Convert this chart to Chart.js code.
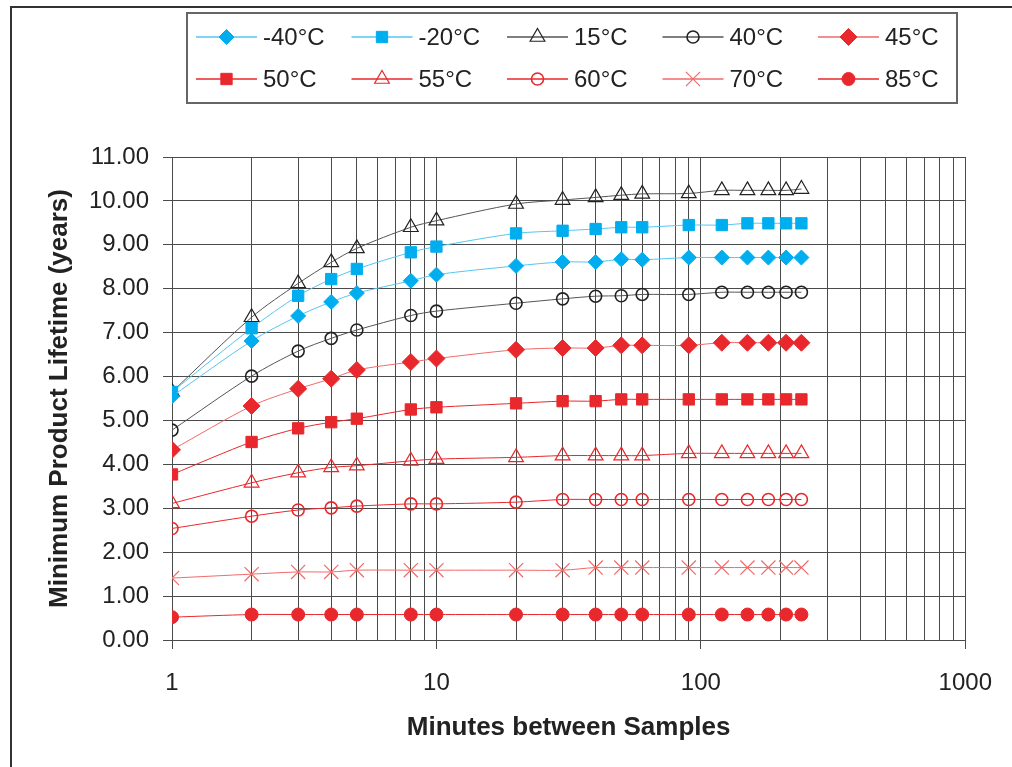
<!DOCTYPE html>
<html>
<head>
<meta charset="utf-8">
<script src="https://cdn.jsdelivr.net/npm/chart.js@4/dist/chart.umd.min.js"></script>
<style>
  html, body { margin: 0; padding: 0; background: #ffffff; }
  #wrap { width: 1012px; height: 767px; position: relative; }
</style>
</head>
<body>
<div id="wrap"><canvas id="c" width="1012" height="767"></canvas></div>
<script>
// ---- data ----
const minutes = [1, 2, 3, 4, 5, 8, 10, 20, 30, 40, 50, 60, 90, 120, 150, 180, 210, 240];
const seriesLabels = ['-40°C', '-20°C', '15°C', '40°C', '45°C', '50°C', '55°C', '60°C', '70°C', '85°C'];
const tM40 = [5.55, 6.81, 7.38, 7.70, 7.90, 8.18, 8.32, 8.52, 8.61, 8.61, 8.67, 8.66, 8.71, 8.71, 8.71, 8.71, 8.71, 8.71];
const tM20 = [5.65, 7.10, 7.84, 8.22, 8.45, 8.83, 8.96, 9.26, 9.32, 9.36, 9.40, 9.40, 9.45, 9.45, 9.49, 9.49, 9.49, 9.49];
const t15  = [5.65, 7.35, 8.12, 8.60, 8.92, 9.40, 9.55, 9.93, 10.02, 10.08, 10.13, 10.16, 10.17, 10.24, 10.24, 10.24, 10.24, 10.27];
const t40  = [4.78, 6.01, 6.58, 6.87, 7.06, 7.39, 7.49, 7.67, 7.77, 7.83, 7.84, 7.87, 7.87, 7.92, 7.92, 7.92, 7.92, 7.92];
const t45  = [4.33, 5.33, 5.72, 5.95, 6.15, 6.33, 6.41, 6.61, 6.65, 6.65, 6.71, 6.71, 6.71, 6.77, 6.77, 6.77, 6.77, 6.77];
const t50  = [3.77, 4.51, 4.82, 4.96, 5.04, 5.25, 5.30, 5.39, 5.44, 5.44, 5.48, 5.48, 5.48, 5.48, 5.48, 5.48, 5.48, 5.48];
const t55  = [3.11, 3.58, 3.81, 3.93, 3.97, 4.08, 4.12, 4.16, 4.20, 4.20, 4.20, 4.20, 4.25, 4.25, 4.25, 4.25, 4.25, 4.25];
const t60  = [2.54, 2.82, 2.96, 3.01, 3.05, 3.10, 3.10, 3.14, 3.20, 3.20, 3.20, 3.20, 3.20, 3.20, 3.20, 3.20, 3.20, 3.20];
const t70  = [1.41, 1.50, 1.55, 1.55, 1.59, 1.59, 1.59, 1.59, 1.59, 1.65, 1.65, 1.65, 1.65, 1.65, 1.65, 1.65, 1.65, 1.65];
const t85  = [0.52, 0.58, 0.58, 0.58, 0.58, 0.58, 0.58, 0.58, 0.58, 0.58, 0.58, 0.58, 0.58, 0.58, 0.58, 0.58, 0.58, 0.58];
const seriesValues = [tM40, tM20, t15, t40, t45, t50, t55, t60, t70, t85];
const xGridValues = [1,2,3,4,5,6,7,8,9,10,20,30,40,50,60,70,80,90,100,200,300,400,500,600,700,800,900,1000];
const yTicks = [0,1,2,3,4,5,6,7,8,9,10,11];

// ---- styles ----
const CYAN = '#00aeef', CYAN_LINE = '#55c6f0';
const RED = '#e8282c', RED_LINE = '#f06a6a';
const BLK = '#222222', GRAY_LINE = '#555555';
const styles = [
  { line: CYAN_LINE, ps: 'rectRot', r: 7.5, fill: CYAN, stroke: CYAN, bw: 1 },
  { line: CYAN_LINE, ps: 'rect',    r: 8,   fill: CYAN, stroke: CYAN, bw: 1 },
  { line: GRAY_LINE, ps: 'triangle', r: 8.5, fill: 'rgba(255,255,255,0)', stroke: BLK, bw: 1.2 },
  { line: GRAY_LINE, ps: 'circle',  r: 6,   fill: 'rgba(255,255,255,0)', stroke: BLK, bw: 1.6 },
  { line: RED_LINE,  ps: 'rectRot', r: 8.5, fill: RED, stroke: RED, bw: 1 },
  { line: RED,       ps: 'rect',    r: 8,   fill: RED, stroke: RED, bw: 1 },
  { line: RED,       ps: 'triangle', r: 8.5, fill: 'rgba(255,255,255,0)', stroke: RED, bw: 1.2 },
  { line: RED,       ps: 'circle',  r: 6,   fill: 'rgba(255,255,255,0)', stroke: RED, bw: 1.6 },
  { line: RED_LINE,  ps: 'crossRot', r: 10, fill: RED, stroke: RED_LINE, bw: 1.2 },
  { line: RED,       ps: 'circle',  r: 6.5, fill: RED, stroke: RED, bw: 1 }
];

const datasets = seriesLabels.map((lab, i) => ({
  label: lab,
  data: minutes.map((m, j) => ({ x: m, y: seriesValues[i][j] })),
  borderColor: styles[i].line,
  borderWidth: 1,
  backgroundColor: styles[i].fill,
  pointStyle: styles[i].ps,
  pointRadius: styles[i].r,
  pointBackgroundColor: styles[i].fill,
  pointBorderColor: styles[i].stroke,
  pointBorderWidth: styles[i].bw,
  pointHoverRadius: styles[i].r,
  tension: 0.3,
  fill: false
}));

const isPow10 = v => Math.abs(Math.log10(v) - Math.round(Math.log10(v))) < 1e-9;
const GRID = '#4a4a4a';
const FONT = "'Liberation Sans', Arial, Helvetica, sans-serif";

function fallbackPoint(ctx, style, x, y, r) {
  ctx.beginPath();
  if (style === 'circle') { ctx.arc(x, y, r, 0, Math.PI * 2); }
  else if (style === 'rect') { const s = r * Math.SQRT1_2; ctx.rect(x - s, y - s, 2 * s, 2 * s); }
  else if (style === 'rectRot') { ctx.moveTo(x, y - r); ctx.lineTo(x + r, y); ctx.lineTo(x, y + r); ctx.lineTo(x - r, y); ctx.closePath(); }
  else if (style === 'triangle') { ctx.moveTo(x, y - r); ctx.lineTo(x + r * 0.866, y + r * 0.5); ctx.lineTo(x - r * 0.866, y + r * 0.5); ctx.closePath(); }
  else if (style === 'crossRot') { const s = r * Math.SQRT1_2; ctx.moveTo(x - s, y - s); ctx.lineTo(x + s, y + s); ctx.moveTo(x + s, y - s); ctx.lineTo(x - s, y + s); }
  if (style !== 'crossRot') ctx.fill();
  ctx.stroke();
}

const framePlugin = {
  id: 'frameAndLegend',
  afterDraw(chart) {
    const ctx = chart.ctx;
    ctx.save();
    // outer frame (left and top edges visible)
    ctx.strokeStyle = '#333333';
    ctx.lineWidth = 2;
    ctx.beginPath();
    ctx.moveTo(11, 770); ctx.lineTo(11, 7); ctx.lineTo(1015, 7);
    ctx.stroke();
    // legend box
    ctx.strokeStyle = '#666666';
    ctx.lineWidth = 2;
    ctx.strokeRect(187, 13, 770, 90);
    // legend items
    ctx.font = '24px ' + FONT;
    ctx.textBaseline = 'middle';
    ctx.textAlign = 'left';
    chart.data.datasets.forEach((ds, i) => {
      const col = i % 5, row = Math.floor(i / 5);
      const x0 = 196 + col * 155.5;
      const y0 = row === 0 ? 37 : 79;
      ctx.strokeStyle = ds.borderColor;
      ctx.lineWidth = 1.5;
      ctx.beginPath(); ctx.moveTo(x0, y0); ctx.lineTo(x0 + 61, y0); ctx.stroke();
      ctx.fillStyle = ds.pointBackgroundColor;
      ctx.strokeStyle = ds.pointBorderColor;
      ctx.lineWidth = ds.pointBorderWidth;
      const pr = ds.pointRadius;
      if (Chart.helpers && Chart.helpers.drawPoint) {
        Chart.helpers.drawPoint(ctx, { pointStyle: ds.pointStyle, rotation: 0, radius: pr, borderWidth: ds.pointBorderWidth }, x0 + 30.5, y0);
      } else {
        fallbackPoint(ctx, ds.pointStyle, x0 + 30.5, y0, pr);
      }
      ctx.fillStyle = '#222222';
      ctx.fillText(ds.label, x0 + 67, y0 + 1);
    });
    ctx.restore();
  }
};

new Chart(document.getElementById('c'), {
  type: 'line',
  data: { datasets },
  plugins: [framePlugin],
  options: {
    responsive: false,
    animation: false,
    events: [],
    layout: { padding: { top: 157, right: 43, bottom: 0, left: 0 } },
    plugins: { legend: { display: false }, tooltip: { enabled: false } },
    scales: {
      x: {
        type: 'logarithmic',
        min: 1, max: 1000,
        afterBuildTicks: s => { s.ticks = xGridValues.map(v => ({ value: v, major: isPow10(v) })); },
        afterFit: s => { s.height = 127; },
        grid: {
          color: GRID, lineWidth: 1, drawTicks: true, tickLength: 9,
          tickColor: c => (c.tick && isPow10(c.tick.value)) ? GRID : 'rgba(0,0,0,0)'
        },
        border: { display: true, color: GRID, width: 1 },
        ticks: {
          autoSkip: false, maxRotation: 0, minRotation: 0,
          padding: 20,
          color: '#222222',
          font: { family: FONT, size: 24 },
          callback: v => isPow10(v) ? String(Math.round(v)) : ''
        },
        title: {
          display: true, text: 'Minutes between Samples', color: '#222222',
          font: { family: FONT, size: 26, weight: 'bold' },
          padding: { top: 0, bottom: 24 }
        }
      },
      y: {
        min: 0, max: 11,
        afterBuildTicks: s => { s.ticks = yTicks.map(v => ({ value: v })); },
        afterFit: s => { s.width = 172; },
        grid: { color: GRID, lineWidth: 1, tickLength: 9, tickColor: GRID },
        border: { display: true, color: GRID, width: 1 },
        ticks: {
          padding: 14,
          color: '#222222',
          font: { family: FONT, size: 24 },
          callback: v => Number(v).toFixed(2)
        },
        title: {
          display: true, text: 'Minimum Product Lifetime (years)', color: '#222222',
          font: { family: FONT, size: 26, weight: 'bold' },
          padding: { top: 44, bottom: 0 }
        }
      }
    }
  }
});
</script>
</body>
</html>
